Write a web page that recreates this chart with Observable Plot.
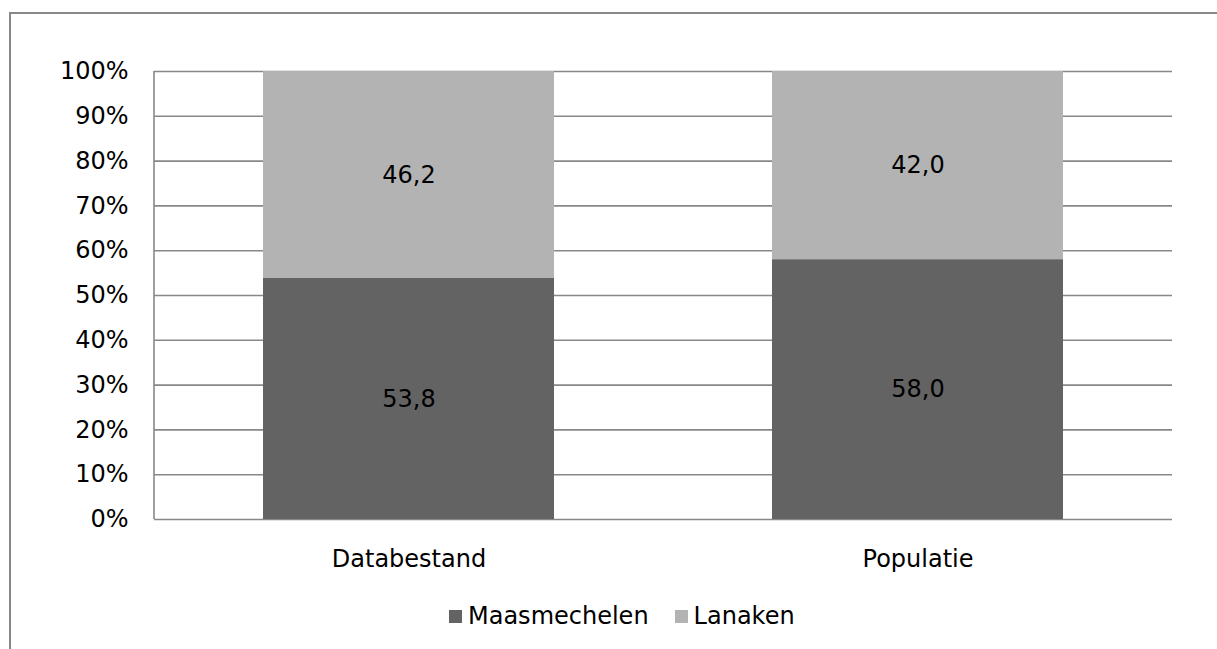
<!DOCTYPE html>
<html>
<head>
<meta charset="utf-8">
<script src="https://cdn.jsdelivr.net/npm/d3@7"></script>
<script src="https://cdn.jsdelivr.net/npm/@observablehq/plot@0.6"></script>
<style>
  html, body { margin: 0; padding: 0; background: #fff; overflow: hidden; }
  body { width: 1217px; height: 649px; position: relative; font-family: "DejaVu Sans", Verdana, sans-serif; }
  #frame { position: absolute; left: 9px; top: 12px; width: 1400px; height: 800px; border: 2px solid #888; box-sizing: border-box; }
  #chart { position: absolute; left: 0; top: 0; }
  #legend { position: absolute; left: 449px; top: 602px; font-size: 24px; color: #000; display: flex; align-items: center; white-space: nowrap; }
  .sw { display: inline-block; width: 13px; height: 13px; margin-right: 6px; }
  .item { display: inline-flex; align-items: center; margin-right: 26px; }
</style>
</head>
<body>
<div id="frame"></div>
<div id="chart"></div>
<div id="legend"></div>
<script>
const categories = ["Databestand", "Populatie"];
const series = ["Maasmechelen", "Lanaken"];
const maasmechelen = [53.8, 58.0];
const lanaken = [46.2, 42.0];
const colors = ["#636363", "#b3b3b3"];
const yTicks = [0, 10, 20, 30, 40, 50, 60, 70, 80, 90, 100];

const data = [];
categories.forEach((c, i) => {
  data.push({cat: c, series: series[0], value: maasmechelen[i]});
  data.push({cat: c, series: series[1], value: lanaken[i]});
});

const chart = Plot.plot({
  width: 1217,
  height: 580,
  marginLeft: 154,
  marginRight: 45,
  marginTop: 71,
  marginBottom: 61,
  style: {fontFamily: "'DejaVu Sans', Verdana, sans-serif", fontSize: "24px", color: "#000", background: "transparent"},
  x: {domain: categories, paddingInner: 0.428, paddingOuter: 0.214, label: null, tickSize: 0, tickPadding: 30},
  y: {domain: [0, 100], ticks: yTicks, tickFormat: d => d + "%", label: null, tickSize: 0, tickPadding: 26},
  color: {domain: series, range: colors},
  marks: [
    Plot.ruleY(yTicks, {stroke: "#888", strokeWidth: 1.6}),
    Plot.barY(data, {x: "cat", y: "value", fill: "series", order: series}),
    Plot.text(data, Plot.stackY({x: "cat", y: "value", z: "series", order: series,
      text: d => d.value.toFixed(1).replace(".", ","), fill: "#000", fontSize: 24}))
  ]
});
document.getElementById("chart").appendChild(chart);

const svg = d3.select(chart);
const ys = chart.scale("y");
svg.append("line")
  .attr("x1", 154).attr("x2", 154)
  .attr("y1", ys.apply(0)).attr("y2", ys.apply(100))
  .attr("stroke", "#888").attr("stroke-width", 1.6);

const leg = document.getElementById("legend");
series.forEach((s, i) => {
  const it = document.createElement("span");
  it.className = "item";
  const sw = document.createElement("span");
  sw.className = "sw";
  sw.style.background = colors[i];
  it.appendChild(sw);
  it.appendChild(document.createTextNode(s));
  leg.appendChild(it);
});
</script>
</body>
</html>
